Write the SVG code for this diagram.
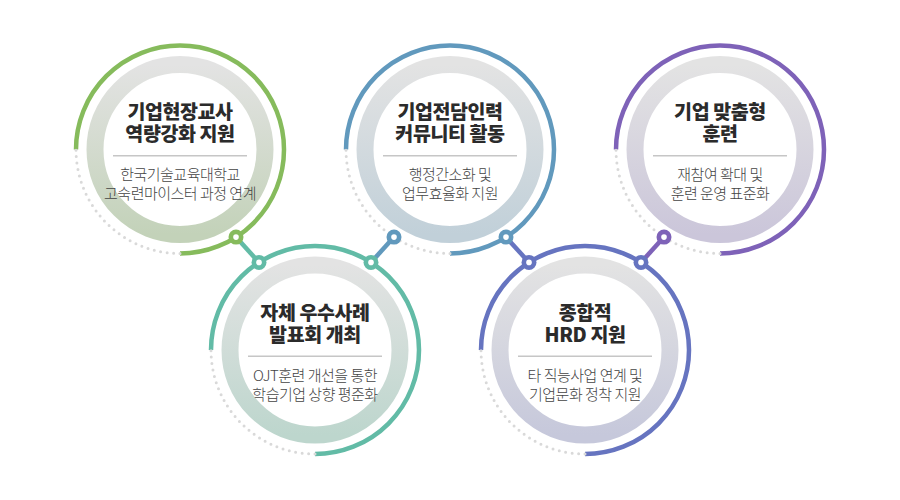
<svg xmlns="http://www.w3.org/2000/svg" width="900" height="500" viewBox="0 0 900 500">
<defs>
<linearGradient id="g1" x1="0" y1="0" x2="0" y2="1"><stop offset="0" stop-color="#e3e3e3"/><stop offset="1" stop-color="#c3d2b9"/></linearGradient>
<linearGradient id="g2" x1="0" y1="0" x2="0" y2="1"><stop offset="0" stop-color="#e3e3e3"/><stop offset="1" stop-color="#c1d0d9"/></linearGradient>
<linearGradient id="g3" x1="0" y1="0" x2="0" y2="1"><stop offset="0" stop-color="#e3e3e3"/><stop offset="1" stop-color="#cbc6da"/></linearGradient>
<linearGradient id="g4" x1="0" y1="0" x2="0" y2="1"><stop offset="0" stop-color="#e3e3e3"/><stop offset="1" stop-color="#bdd6cd"/></linearGradient>
<linearGradient id="g5" x1="0" y1="0" x2="0" y2="1"><stop offset="0" stop-color="#e3e3e3"/><stop offset="1" stop-color="#c6c8db"/></linearGradient>
</defs>
<style>
.ring{fill:#fff;stroke-width:17}
.arc{fill:none;stroke-width:4.5}
.dot{fill:none;stroke:#d9d9d9;stroke-width:3;stroke-linecap:round;stroke-dasharray:0 6.5}
.sep{stroke:#c6c6c6;stroke-width:1.5}
.t{font-family:"Noto Sans CJK KR","Noto Sans",sans-serif;font-weight:900;font-size:19.5px;fill:#2b2b2b;text-anchor:middle;letter-spacing:-0.4px}
.s{font-family:"Noto Sans CJK KR","Noto Sans",sans-serif;font-weight:300;font-size:15px;fill:#444;text-anchor:middle;letter-spacing:-0.5px}
.seg{stroke-width:4.5;fill:none}
.hole{fill:#fff}
</style>

<g id="connectors">
<line class="seg" x1="236" y1="237.1" x2="259" y2="262.4" stroke="#62bba6"/>
<line class="seg" x1="394" y1="237.1" x2="371" y2="262.4" stroke="#6199bd"/>
<line class="seg" x1="506" y1="237.1" x2="529" y2="262.4" stroke="#6674c0"/>
<line class="seg" x1="664" y1="237.1" x2="641" y2="262.4" stroke="#7e62b8"/>
</g>

<g id="node1">
<circle class="ring" cx="180" cy="149.5" r="85" stroke="url(#g1)"/>
<path class="arc" stroke="#86bb5c" d="M76 149.5 A104 104 0 1 1 180 253.5"/>
<path class="dot" d="M180 253.5 A104 104 0 0 1 76 149.5"/>
<text class="t" x="180" y="119">기업현장교사</text>
<text class="t" x="180" y="141">역량강화 지원</text>
<line class="sep" x1="113" y1="155.7" x2="247" y2="155.7"/>
<text class="s" x="180" y="180">한국기술교육대학교</text>
<text class="s" x="180" y="199">고숙련마이스터 과정 연계</text>
</g>

<g id="node2">
<circle class="ring" cx="450" cy="149.5" r="85" stroke="url(#g2)"/>
<path class="arc" stroke="#6199bd" d="M346 149.5 A104 104 0 1 1 450 253.5"/>
<path class="dot" d="M450 253.5 A104 104 0 0 1 346 149.5"/>
<text class="t" x="450" y="119">기업전담인력</text>
<text class="t" x="450" y="141">커뮤니티 활동</text>
<line class="sep" x1="383" y1="155.7" x2="517" y2="155.7"/>
<text class="s" x="450" y="180">행정간소화 및</text>
<text class="s" x="450" y="199">업무효율화 지원</text>
</g>

<g id="node3">
<circle class="ring" cx="720" cy="149.5" r="85" stroke="url(#g3)"/>
<path class="arc" stroke="#7e62b8" d="M616 149.5 A104 104 0 1 1 720 253.5"/>
<path class="dot" d="M720 253.5 A104 104 0 0 1 616 149.5"/>
<text class="t" x="720" y="119">기업 맞춤형</text>
<text class="t" x="720" y="141">훈련</text>
<line class="sep" x1="653" y1="155.7" x2="787" y2="155.7"/>
<text class="s" x="720" y="180">재참여 확대 및</text>
<text class="s" x="720" y="199">훈련 운영 표준화</text>
</g>

<g id="node4">
<circle class="ring" cx="315" cy="350" r="85" stroke="url(#g4)"/>
<path class="arc" stroke="#62bba6" d="M211 350 A104 104 0 1 1 315 454"/>
<path class="dot" d="M315 454 A104 104 0 0 1 211 350"/>
<text class="t" x="315" y="319.5">자체 우수사례</text>
<text class="t" x="315" y="341.5">발표회 개최</text>
<line class="sep" x1="248" y1="356.2" x2="382" y2="356.2"/>
<text class="s" x="315" y="380.5">OJT훈련 개선을 통한</text>
<text class="s" x="315" y="399.5">학습기업 상향 평준화</text>
</g>

<g id="node5">
<circle class="ring" cx="585" cy="350" r="85" stroke="url(#g5)"/>
<path class="arc" stroke="#6674c0" d="M481 350 A104 104 0 1 1 585 454"/>
<path class="dot" d="M585 454 A104 104 0 0 1 481 350"/>
<text class="t" x="585" y="319.5">종합적</text>
<text class="t" x="585" y="341.5">HRD 지원</text>
<line class="sep" x1="518" y1="356.2" x2="652" y2="356.2"/>
<text class="s" x="585" y="380.5">타 직능사업 연계 및</text>
<text class="s" x="585" y="399.5">기업문화 정착 지원</text>
</g>

<g id="joints">
<circle cx="236" cy="237.1" r="7.5" fill="#86bb5c"/><circle class="hole" cx="236" cy="237.1" r="2.8"/>
<circle cx="394" cy="237.1" r="7.5" fill="#6199bd"/><circle class="hole" cx="394" cy="237.1" r="2.8"/>
<circle cx="506" cy="237.1" r="7.5" fill="#6199bd"/><circle class="hole" cx="506" cy="237.1" r="2.8"/>
<circle cx="664" cy="237.1" r="7.5" fill="#7e62b8"/><circle class="hole" cx="664" cy="237.1" r="2.8"/>
<circle cx="259" cy="262.4" r="7.5" fill="#62bba6"/><circle class="hole" cx="259" cy="262.4" r="2.8"/>
<circle cx="371" cy="262.4" r="7.5" fill="#62bba6"/><circle class="hole" cx="371" cy="262.4" r="2.8"/>
<circle cx="529" cy="262.4" r="7.5" fill="#6674c0"/><circle class="hole" cx="529" cy="262.4" r="2.8"/>
<circle cx="641" cy="262.4" r="7.5" fill="#6674c0"/><circle class="hole" cx="641" cy="262.4" r="2.8"/>
</g>
</svg>
